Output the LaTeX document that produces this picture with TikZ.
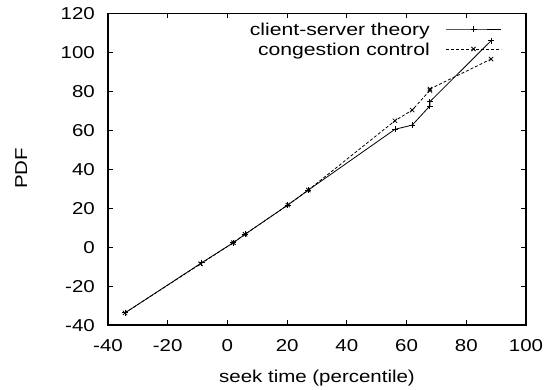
\documentclass[tikz,border=0pt]{standalone}
\usepackage{graphicx}
\usepackage{fontspec}
\setmainfont{Liberation Sans}
\newcommand\widetxt[1]{\scalebox{1.19}[1]{#1}}
\newcommand\widertxt[1]{\scalebox{1.23}[1]{#1}}
\begin{document}
\begin{tikzpicture}[x=1pt,y=1pt,
  lbl/.style={font=\fontsize{17.2}{20}\selectfont, inner sep=0pt},
  frame/.style={line width=1.3pt},
  tick/.style={line width=0.8pt},
  serA/.style={line width=0.8pt, mark=+, mark size=3pt, mark options={solid, line width=0.8pt}},
  serB/.style={line width=0.8pt, dash pattern=on 3pt off 2pt, mark=x, mark size=3pt, mark options={solid, line width=0.8pt}}]
\useasboundingbox (0,0) rectangle (558,389);
% frame
\draw[frame] (108,64) rectangle (526,375.5);
% x ticks and labels
\foreach \v in {-40,-20,...,100}{
  \pgfmathsetmacro\px{108+(\v+40)*2.985714}
  \draw[tick] (\px,64) -- ++(0,5);
  \draw[tick] (\px,375.5) -- ++(0,-5);
  \node[lbl, anchor=base] (xl\v) at (\px,37.3) {\widetxt{\v}};
}
% y ticks and labels
\foreach \v in {-40,-20,...,120}{
  \pgfmathsetmacro\py{64+(\v+40)*1.946875}
  \draw[tick] (108,\py) -- ++(5,0);
  \draw[tick] (526,\py) -- ++(-5,0);
  \node[lbl, anchor=base east] (yl\v) at (95,\py-6.2) {\widetxt{\v}};
}
% axis titles
\node[lbl, anchor=base] (xtitle) at (317,6) {\widetxt{seek time (percentile)}};
\node[lbl, anchor=base, rotate=90] (ytitle) at (27,220.5) {\widetxt{PDF}};
% data (pre-mapped to picture coordinates)
\draw[serA] plot coordinates {(125.0,76.1) (201.75,126.3) (233.4,146.35) (245.05,154.72) (287.74,183.93) (308.34,198.92) (394.93,259.66) (412.24,263.94) (429.86,283.02) (429.86,287.31) (491.07,348.24)};
\draw[serB] plot coordinates {(125.0,76.1) (200.56,125.13) (233.4,146.35) (245.05,154.72) (287.74,183.93) (308.34,198.92) (394.93,268.23) (412.24,278.94) (429.86,298.6) (429.86,299.96) (491.07,329.94)};
% legend
\node[lbl, anchor=base east] (leg1) at (430,353) {\widertxt{client-server theory}};
\node[lbl, anchor=base east] (leg2) at (430,333) {\widertxt{congestion control}};
\draw[serA] plot[mark indices={2}] coordinates {(446,360) (473.5,360) (501,360)};
\draw[serB] plot[mark indices={2}] coordinates {(446,340) (473.5,340) (501,340)};
\end{tikzpicture}
\end{document}
